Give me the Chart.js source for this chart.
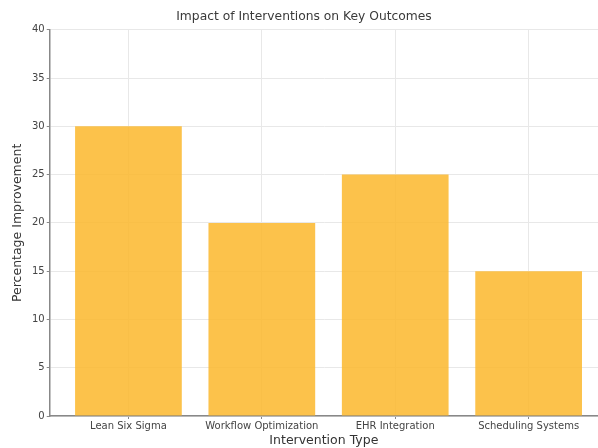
<!DOCTYPE html>
<html>
<head>
  <title>Impact of Interventions on Key Outcomes</title>
  <style>
    html, body { margin: 0; padding: 0; background: #fff; overflow: hidden; }
    #wrap { width: 598px; height: 448px; }
  </style>
</head>
<body>
<div id="wrap"><canvas id="myCanvas" width="598" height="448"></canvas></div>
<script src="https://cdn.jsdelivr.net/npm/chart.js@4/dist/chart.umd.min.js"></script>
<script>
  // data
  var categories = ['Lean Six Sigma', 'Workflow Optimization', 'EHR Integration', 'Scheduling Systems'];
  var improvement = [30, 20, 25, 15];
  var yTicks = [0, 5, 10, 15, 20, 25, 30, 35, 40];

  var points = categories.map(function(c, i) { return { x: i, y: improvement[i] }; });

  Chart.defaults.font.family = 'DejaVu Sans';
  Chart.defaults.color = '#333';

  var chart = new Chart(document.getElementById('myCanvas'), {
    type: 'bar',
    data: {
      datasets: [{
        label: 'Percentage Improvement',
        data: points,
        backgroundColor: 'rgba(252, 183, 44, 0.85)',
        borderWidth: 0,
        barPercentage: 0.8,
        categoryPercentage: 1
      }]
    },
    options: {
      responsive: false,
      animation: false,
      layout: { padding: { top: 7, right: 0, bottom: 0, left: 10 } },
      plugins: {
        legend: { display: false },
        tooltip: { enabled: false },
        title: {
          display: true,
          text: 'Impact of Interventions on Key Outcomes',
          font: { size: 12.3, weight: 'normal' },
          color: '#3a3a3a',
          padding: { top: 2, bottom: 6 }
        }
      },
      scales: {
        x: {
          type: 'linear',
          offset: false,
          min: -0.59,
          max: 3.52,
          afterBuildTicks: function(axis) {
            axis.ticks = categories.map(function(c, i) { return { value: i }; });
          },
          ticks: {
            callback: function(v) { return categories[v]; },
            font: { size: 10 },
            color: '#444',
            padding: 1,
            maxRotation: 0,
            autoSkip: false
          },
          grid: { offset: false, color: '#e8e8e8', tickLength: 3, tickColor: '#888' },
          border: { color: '#888', width: 1.5 },
          title: { display: true, text: 'Intervention Type', font: { size: 12.5 }, color: '#333', padding: { top: 0, bottom: 0 } }
        },
        y: {
          min: 0,
          max: 40,
          afterBuildTicks: function(axis) {
            axis.ticks = yTicks.map(function(v) { return { value: v }; });
          },
          ticks: { font: { size: 10 }, color: '#444', padding: 2 },
          grid: { color: '#e8e8e8', tickLength: 3, tickColor: '#888' },
          border: { color: '#888', width: 1.5 },
          title: { display: true, text: 'Percentage Improvement', font: { size: 12.5 }, color: '#333', padding: { top: 0, bottom: 5 } }
        }
      }
    }
  });
</script>
</body>
</html>
